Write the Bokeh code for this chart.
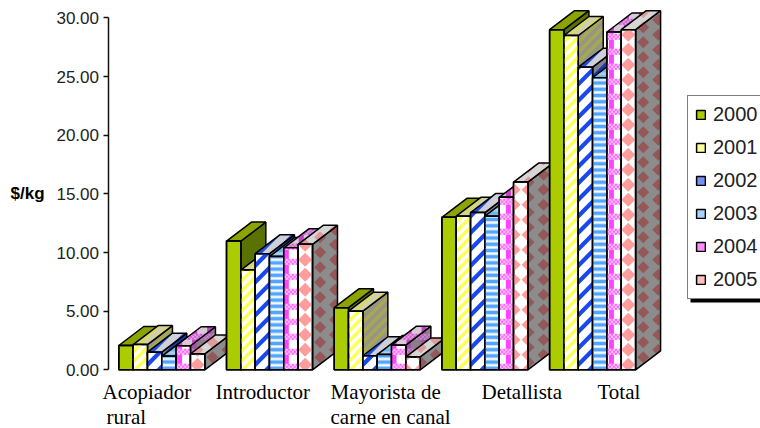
from bokeh.plotting import figure
from bokeh.embed import file_html
from bokeh.resources import INLINE
from bokeh.core.properties import value
from bokeh.models import Range1d, Label, Legend, LegendItem, FixedTicker, CustomJSTickFormatter

categories = ["Acopiador", "Introductor", "Mayorista de", "Detallista", "Total"]
second_lines = [" rural", "", "carne en canal", "", ""]
years = ["2000", "2001", "2002", "2003", "2004", "2005"]
v2000 = [2.07, 10.97, 5.3, 13.0, 29.0]
v2001 = [2.15, 8.5, 5.0, 13.1, 28.5]
v2002 = [1.5, 9.9, 1.2, 13.4, 25.8]
v2003 = [1.15, 9.65, 1.3, 13.1, 24.9]
v2004 = [2.05, 10.4, 2.1, 14.7, 28.8]
v2005 = [1.35, 10.7, 1.1, 16.0, 29.0]
series = [v2000, v2001, v2002, v2003, v2004, v2005]
y_ticks = [0, 5, 10, 15, 20, 25, 30]

# layout: reference pixel -> data
GROUP = 107.7
UNIT = 11.73
X0 = 118.3
Y0 = 369.3
W_PX, DX_PX, DY_PX = 14.33, 25.0, 19.0
def xv(px): return (px - X0) / GROUP
def yv(py): return (Y0 - py) / UNIT
BAR = W_PX / GROUP


def clip(subject, face):
    """Sutherland-Hodgman: clip polygon 'subject' to the convex polygon 'face'."""
    area = sum(face[i][0] * face[(i + 1) % len(face)][1] - face[(i + 1) % len(face)][0] * face[i][1]
               for i in range(len(face)))
    if area < 0:
        face = face[::-1]
    out = list(subject)
    for i in range(len(face)):
        ax_, ay = face[i]
        bx, by = face[(i + 1) % len(face)]
        inside = lambda q: (bx - ax_) * (q[1] - ay) - (by - ay) * (q[0] - ax_) >= 0
        cur, out = out, []
        for j in range(len(cur)):
            a, b = cur[j], cur[(j + 1) % len(cur)]
            ia, ib = inside(a), inside(b)
            if ia:
                out.append(a)
            if ia != ib:
                da = (bx - ax_) * (a[1] - ay) - (by - ay) * (a[0] - ax_)
                db = (bx - ax_) * (b[1] - ay) - (by - ay) * (b[0] - ax_)
                t = da / (da - db)
                out.append((a[0] + t * (b[0] - a[0]), a[1] + t * (b[1] - a[1])))
        if not out:
            return []
    return out


def bbox(face):
    xs = [q[0] for q in face]
    ys = [q[1] for q in face]
    return min(xs), max(xs), min(ys), max(ys)


def diag(face, period, thick, phase=0.0):
    x0, x1, y0, y1 = bbox(face)
    res = []
    c = y0 - x1 - period + phase
    while c < y1 - x0 + period:
        res.append([(x0, x0 + c), (x1, x1 + c), (x1, x1 + c + thick), (x0, x0 + c + thick)])
        c += period
    return res


def hbands(face, period, thick, phase=0.0):
    x0, x1, y0, y1 = bbox(face)
    res = []
    v = y0 - (y0 % period) - period + phase
    while v < y1:
        res.append([(x0, v), (x1, v), (x1, v + thick), (x0, v + thick)])
        v += period
    return res


def diamonds(face, px, py, r, ox, oy, stagger):
    x0, x1, y0, y1 = bbox(face)
    res = []
    k = -2
    while ox + k * px < x1 + r:
        cx = ox + k * px
        shift = (py / 2 if k % 2 else 0) if stagger else 0
        j = int((y0 - oy) // py) - 2
        while oy + shift + j * py < y1 + r:
            cy = oy + shift + j * py
            res.append([(cx, cy - r), (cx + r, cy), (cx, cy + r), (cx - r, cy)])
            j += 1
        k += 1
    return res


def checks(face, col_x, col_w, period):
    x0, x1, y0, y1 = bbox(face)
    col = [[(x0 + col_x + k * 15, y0), (x0 + col_x + col_w + k * 15, y0),
            (x0 + col_x + col_w + k * 15, y1), (x0 + col_x + k * 15, y1)] for k in range(0, 3)]
    sq = []
    band = []
    v = y0 - (y0 % period)
    while v < y1:
        band.append([(x0, v), (x1, v), (x1, v + 6), (x0, v + 6)])
        for iy in range(3):
            ix = 0
            while x0 + ix * 2 < x1:
                if (ix + iy) % 2 == 0:
                    a, b = x0 + ix * 2, v + iy * 2
                    sq.append([(a, b), (a + 2, b), (a + 2, b + 2), (a, b + 2)])
                ix += 1
        v += period
    return col, band, sq


COL_OFF_2004 = [1, 0, 0, 6.7, 2]
DIA_OFF_2005 = [(7, 5), (7, 5), (0, 0), (0, 0), (7, 5)]
SWATCH_TINT = ["#AACC00", "#FFFF9C", "#7590F2", "#A8D2FF", "#FF8CFF", "#FFC0C0"]

FACE_COL = {
    0: dict(front="#AACC00", top="#8CA400", side="#5C7200"),
    1: dict(front="#FFFFFF", top="#CFCFB4", side="#94948A"),
    2: dict(front="#FFFFFF", top="#CFCFD8", side="#808090"),
    3: dict(front="#FFFFFF", top="#B4D2E2", side="#7890A0"),
    4: dict(front="#FFFFFF", top="#D8C8D8", side="#8C7C8C"),
    5: dict(front="#FFFFFF", top="#D6D6D6", side="#8C8C8C"),
}


def pattern(s, g, kind, face):
    """list of (colour, polygons) in pixels relative to the bar."""
    if s == 1:
        c = dict(front="#FFFF55", top="#D8D870", side="#A8A850")[kind]
        return [(c, diag(face, 10, 5))]
    if s == 2:
        c = dict(front="#1848EE", top="#2050E0", side="#1838A8")[kind]
        return [(c, diag(face, 16.5, 6))]
    if s == 3:
        c = dict(front="#55A5FF", top="#70B4E8", side="#507898")[kind]
        pale = dict(front="#BFE0FF", top="#A0C8E8", side="#7088A0")[kind]
        return [(pale, hbands(face, 6.2, 5, -1)), (c, hbands(face, 6.2, 3))]
    if s == 4:
        c = dict(front="#FF44FF", top="#C840C8", side="#A84CA8")[kind]
        col, band, sq = checks(face, COL_OFF_2004[g], 5, 15)
        pale = dict(front="#FFC4FF", top="#E0A0E0", side="#C090C0")[kind]
        return [(c, col), (pale, band), (dict(front="#FF66FF", top="#D060D0", side="#B060B0")[kind], sq)]
    if s == 5:
        c = dict(front="#FF9C9C", top="#E09C9C", side="#955858")[kind]
        ox, oy = DIA_OFF_2005[g]
        if kind == "front":
            return [(c, diamonds(face, 15, 15, 7, ox, oy, False))]
        return [(c, diamonds(face, 15, 15, 6, ox, oy, True))]
    return []


p = figure(width=760, height=428, output_backend="svg", toolbar_location=None,
           x_range=Range1d(xv(0), xv(760)), y_range=Range1d(yv(428), yv(0)),
           x_axis_location=None, min_border_left=0, min_border_right=0,
           min_border_top=0, min_border_bottom=0, outline_line_color=None)
p.grid.visible = False

ax = p.yaxis[0]
ax.fixed_location = xv(107.5)
ax.ticker = FixedTicker(ticks=y_ticks)
ax.bounds = (0, 30)
ax.formatter = CustomJSTickFormatter(code="return tick.toFixed(2)")
ax.minor_tick_line_color = None
ax.major_tick_in = 0
ax.major_tick_out = 5
ax.major_label_standoff = 4
ax.axis_line_width = 1.5
ax.major_tick_line_width = 1.5
ax.axis_line_color = "#111111"
ax.major_tick_line_color = "#111111"
ax.major_label_text_font = "Liberation Sans"
ax.major_label_text_font_size = "17px"
ax.major_label_text_color = "#222222"

# zero-size bars at the first bar's corner, whose only job is the legend swatch
items = []
for yr, tint in zip(years, SWATCH_TINT):
    proxy = p.quad(left=[0], right=[0], bottom=[0], top=[0], fill_color=tint,
                   line_color="black", line_width=1.5)
    items.append(LegendItem(label=value(yr), renderers=[proxy]))

for g in range(len(categories)):
    for s, vals in enumerate(series):
        cols = FACE_COL[s]
        l = g + s * BAR
        v = vals[g]
        h = v * UNIT
        polys = dict(
            side=[(W_PX, 0), (W_PX + DX_PX, DY_PX), (W_PX + DX_PX, h + DY_PX), (W_PX, h)],
            top=[(0, h), (DX_PX, h + DY_PX), (W_PX + DX_PX, h + DY_PX), (W_PX, h)],
            front=[(0, 0), (W_PX, 0), (W_PX, h), (0, h)],
        )
        for kind in ("side", "top", "front"):
            face = polys[kind]
            fx = [l + q[0] / GROUP for q in face]
            fy = [q[1] / UNIT for q in face]
            if kind == "front":
                p.quad(left=[l], right=[l + BAR], bottom=[0], top=[v], fill_color=cols[kind],
                       line_color="black", line_width=1.5)
            else:
                p.patches([fx], [fy], fill_color=cols[kind], line_color=None)
            for color, sh in pattern(s, g, kind, face):
                a, b = [], []
                for poly in sh:
                    c = clip(poly, face)
                    if len(c) >= 3:
                        a.append([l + q[0] / GROUP for q in c])
                        b.append([q[1] / UNIT for q in c])
                if a:
                    p.patches(a, b, fill_color=color, line_color=None)
            p.patches([fx], [fy], fill_color=None, line_color="black", line_width=1.5)

# legend shadow
p.quad(left=xv(690), right=xv(761), top=yv(298), bottom=yv(302), fill_color="black", line_color=None)

legend = Legend(items=items, location=(687, 129), orientation="vertical",
                glyph_width=11, glyph_height=11, label_standoff=7, padding=7, spacing=10, margin=0,
                label_height=20, label_width=60, label_text_font="Liberation Sans", label_text_font_size="20px",
                label_text_color="#222222", border_line_color="black", border_line_width=1.5,
                background_fill_color="white", background_fill_alpha=1.0)
p.add_layout(legend, "center")

TEXT_FONT = dict(text_font="Liberation Serif", text_font_size="21px", text_color="black",
                 text_baseline="middle")
label_px = [102, 215, 330, 481, 597]
second_px = [106, 0, 330, 0, 0]
for cat, sec, a, b in zip(categories, second_lines, label_px, second_px):
    p.add_layout(Label(x=a, y=yv(391), x_units="screen", y_units="data", text=cat, **TEXT_FONT))
    if sec:
        p.add_layout(Label(x=b, y=yv(416), x_units="screen", y_units="data", text=sec.strip(), **TEXT_FONT))

p.add_layout(Label(x=10, y=15, x_units="screen", y_units="data", text="$/kg",
                   text_font="Liberation Sans", text_font_style="bold", text_font_size="17px",
                   text_color="black", text_baseline="middle"))

open("out.html", "w").write(file_html(p, INLINE))
